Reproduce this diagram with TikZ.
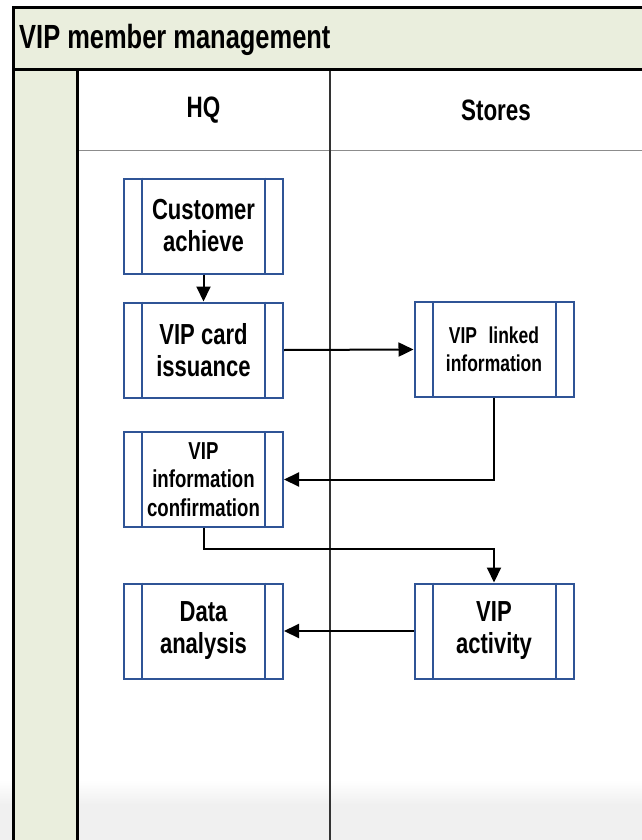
\documentclass[tikz,border=0pt]{standalone}
\usepackage{fontspec}
\setmainfont{Liberation Sans}[FakeStretch=0.76]
\usetikzlibrary{arrows.meta}
\definecolor{bandgreen}{HTML}{EAEEDD}
\definecolor{boxblue}{HTML}{2F5496}
\definecolor{lanegray}{HTML}{333333}
\begin{document}
\begin{tikzpicture}[x=1pt,y=-1pt,
  procbox/.style={draw=boxblue, line width=2pt, fill=white, minimum width=159pt,
    minimum height=95pt, inner sep=0pt, align=center, font=\bfseries},
  bigtext/.style={font=\fontsize{29}{32}\selectfont\bfseries},
  midtext/.style={font=\fontsize{24.5}{28.5}\selectfont\bfseries},
  smalltext/.style={font=\fontsize{23}{28}\selectfont\bfseries},
  headtext/.style={font=\fontsize{29.5}{32}\selectfont\bfseries},
  flow/.style={line width=2pt, -{Triangle[length=15pt,width=14pt]}},
  frameline/.style={line width=3pt, draw=black}]
\useasboundingbox (0,0) rectangle (642,840);
\begin{scope}
\clip (0,0) rectangle (642,840);
% bottom gradient
\shade[top color=white, bottom color=black!6] (0,780) rectangle (642,805);
\fill[black!6] (0,805) rectangle (642,841);
% title band
\fill[bandgreen] (13,8) rectangle (660,70);
% left column
\fill[bandgreen] (13,70) rectangle (77,850);
% header row line
\draw[line width=1pt, draw=black!45] (77,150) -- (660,150);
% lane divider
\draw[line width=1.5pt, draw=lanegray] (330,70) -- (330,850);
% frame
\draw[frameline] (660,8) -- (13,8) -- (13,850);
\draw[frameline] (13,70) -- (660,70);
\draw[frameline] (77,70) -- (77,850);
\end{scope}
\node[anchor=base west, inner sep=0pt, font=\fontsize{33.5}{36}\selectfont\bfseries]
  (title) at (19,49) {VIP member management};
\node[headtext] (hq) at (203.5,110) {HQ};
\node[headtext] (stores) at (496,110) {Stores};
% boxes
\node[procbox, bigtext] (ca) at (203.5,226) {Customer\\achieve};
\node[procbox, bigtext] (vc) at (203.5,350) {VIP card\\issuance};
\node[procbox, midtext] (vic) at (203.5,479.5) {VIP\\information\\confirmation};
\node[procbox, bigtext] (da) at (203.5,631) {Data\\analysis};
\node[procbox, smalltext] (vl) at (494,349.5) {VIP\hspace{0.5em}linked\\information};
\node[procbox, bigtext] (va) at (494,631) {VIP\\activity};
\foreach \n in {ca,vc,vic,da,vl,va}{
  \draw[draw=boxblue, line width=2pt] ([xshift=19pt]\n.north west) -- ([xshift=19pt]\n.south west);
  \draw[draw=boxblue, line width=2pt] ([xshift=-19pt]\n.north east) -- ([xshift=-19pt]\n.south east);
}
% connectors
\coordinate (m1) at (203.5,549);
\draw[flow] (ca.south) -- (vc.north);
\draw[flow] (vc.east) -- (vl.west);
\draw[flow] (vl.south) |- (vic.east);
\draw[flow] (vic.south) -- (m1) -| (va.north);
\draw[flow] (va.west) -- (da.east);
\end{tikzpicture}
\end{document}
